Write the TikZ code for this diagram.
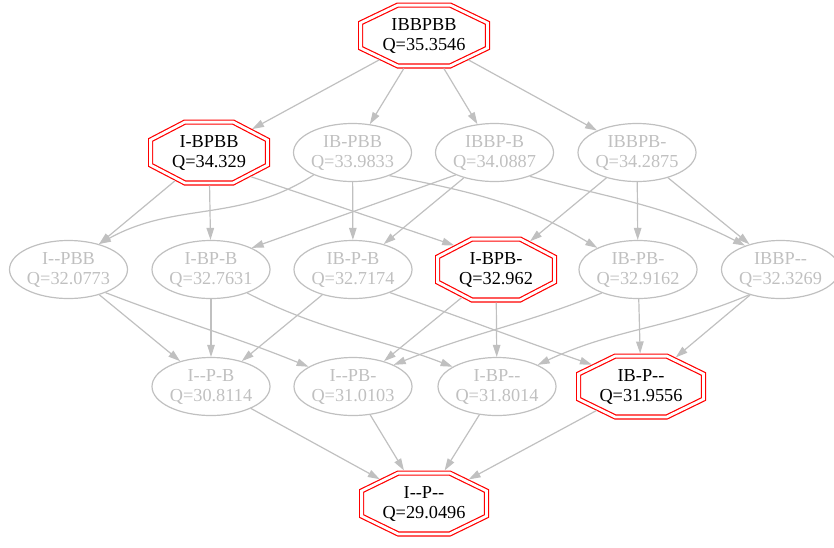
\documentclass[tikz,border=0pt]{standalone}
\usepackage{fontspec}
\setmainfont{Liberation Serif}[Ligatures=TeXOff]
\usetikzlibrary{arrows.meta,shapes.geometric}
\definecolor{lgray}{RGB}{192,192,192}
\definecolor{gvred}{RGB}{255,0,0}
\newcommand\gvfont{\fontsize{18.3}{20}\selectfont}
\newdimen\octcx \newdimen\octcy \newdimen\octa \newdimen\octb \newdimen\octka \newdimen\octkb
\newdimen\octsx \newdimen\octsy \newdimen\octux \newdimen\octuy
\makeatletter
\pgfdeclareshape{gvoctagon}{%
  \savedanchor\centerpoint{%
    \pgf@x=.5\wd\pgfnodeparttextbox
    \pgf@y=.5\ht\pgfnodeparttextbox
    \advance\pgf@y by -.5\dp\pgfnodeparttextbox
  }%
  \saveddimen\halfw{\pgfmathsetlength\pgf@x{.5*\pgfkeysvalueof{/pgf/minimum width}}}%
  \saveddimen\halfh{\pgfmathsetlength\pgf@x{.5*\pgfkeysvalueof{/pgf/minimum height}}}%
  \saveddimen\osep{\pgfmathsetlength\pgf@x{\pgfkeysvalueof{/pgf/outer xsep}}}%
  \anchor{center}{\centerpoint}%
  \anchor{text}{\pgf@x=0pt\pgf@y=0pt}%
  \anchor{north}{\centerpoint\advance\pgf@y by\halfh\advance\pgf@y by\osep}%
  \anchor{south}{\centerpoint\advance\pgf@y by-\halfh\advance\pgf@y by-\osep}%
  \anchor{east}{\centerpoint\advance\pgf@x by\halfw\advance\pgf@x by\osep}%
  \anchor{west}{\centerpoint\advance\pgf@x by-\halfw\advance\pgf@x by-\osep}%
  \backgroundpath{%
    \centerpoint \octcx=\pgf@x \octcy=\pgf@y
    \octa=\halfw \octb=\halfh
    \octka=0.41421\octa \octkb=0.41421\octb
    \pgfpathmoveto{\pgfqpoint{\dimexpr\octcx+\octka\relax}{\dimexpr\octcy+\octb\relax}}%
    \pgfpathlineto{\pgfqpoint{\dimexpr\octcx+\octa\relax}{\dimexpr\octcy+\octkb\relax}}%
    \pgfpathlineto{\pgfqpoint{\dimexpr\octcx+\octa\relax}{\dimexpr\octcy-\octkb\relax}}%
    \pgfpathlineto{\pgfqpoint{\dimexpr\octcx+\octka\relax}{\dimexpr\octcy-\octb\relax}}%
    \pgfpathlineto{\pgfqpoint{\dimexpr\octcx-\octka\relax}{\dimexpr\octcy-\octb\relax}}%
    \pgfpathlineto{\pgfqpoint{\dimexpr\octcx-\octa\relax}{\dimexpr\octcy-\octkb\relax}}%
    \pgfpathlineto{\pgfqpoint{\dimexpr\octcx-\octa\relax}{\dimexpr\octcy+\octkb\relax}}%
    \pgfpathlineto{\pgfqpoint{\dimexpr\octcx-\octka\relax}{\dimexpr\octcy+\octb\relax}}%
    \pgfpathclose
  }%
  \anchorborder{%
    \octsx=\pgf@x \octsy=\pgf@y
    \octux=\pgf@x \octuy=\pgf@y
    \ifdim\octux<0pt \octux=-\octux\fi
    \ifdim\octuy<0pt \octuy=-\octuy\fi
    \octa=\halfw \advance\octa by\osep
    \octb=\halfh \advance\octb by\osep
    \pgfmathsetmacro\octs{max(\octux/\octa,\octuy/\octb,(\octux/\octa+\octuy/\octb)/1.41421)}%
    \ifdim\octs pt<0.00001pt \def\octs{1}\fi
    \pgfmathsetmacro\octf{1/\octs}%
    \centerpoint
    \advance\pgf@x by \octf\octsx
    \advance\pgf@y by \octf\octsy
  }%
}
\makeatother
\tikzset{
  oct/.style={shape=gvoctagon, draw=gvred, line width=1.2pt, double=white,
    double distance=2.8pt, outer sep=2.6pt, minimum height=60.8pt,
    align=center, text=black, font=\gvfont},
  ell/.style={ellipse, draw=lgray, line width=1.2pt, inner sep=0pt,
    minimum width=118pt, minimum height=58pt, align=center, text=lgray,
    font=\gvfont, outer sep=0.6pt},
  conn/.style={draw=lgray, line width=1.2pt, -{Triangle[length=12pt,width=7.5pt]}},
}
\begin{document}
\begin{tikzpicture}[x=1pt,y=1pt]
\useasboundingbox (0,0) rectangle (834,-547);
\node[oct, minimum width=126.8pt] (T) at (424,-35.5) {IBBPBB\\Q=35.3546};
\node[oct, minimum width=116.8pt] (A1) at (209,-152.5) {I-BPBB\\Q=34.329};
\node[ell] (A2) at (352.5,-152.5) {IB-PBB\\Q=33.9833};
\node[ell] (A3) at (494.5,-152.5) {IBBP-B\\Q=34.0887};
\node[ell] (A4) at (637,-152.5) {IBBPB-\\Q=34.2875};
\node[ell] (B0) at (68.5,-269.5) {I--PBB\\Q=32.0773};
\node[ell] (B1) at (211,-269.5) {I-BP-B\\Q=32.7631};
\node[ell] (B2) at (353,-269.5) {IB-P-B\\Q=32.7174};
\node[oct, minimum width=116.8pt] (B3) at (496,-269.5) {I-BPB-\\Q=32.962};
\node[ell] (B4) at (638,-269.5) {IB-PB-\\Q=32.9162};
\node[ell] (B5) at (780.5,-269.5) {IBBP--\\Q=32.3269};
\node[ell] (C0) at (211,-386.5) {I--P-B\\Q=30.8114};
\node[ell] (C1) at (353,-386.5) {I--PB-\\Q=31.0103};
\node[ell] (C2) at (497,-386.5) {I-BP--\\Q=31.8014};
\node[oct, minimum width=124.8pt] (C3) at (641,-386.5) {IB-P--\\Q=31.9556};
\node[oct, minimum width=124.8pt] (D) at (424,-503.5) {I--P--\\Q=29.0496};
% rank 0 -> 1
\draw[conn] (T) -- (A1);
\draw[conn] (T) -- (A2);
\draw[conn] (T) -- (A3);
\draw[conn] (T) -- (A4);
% rank 1 -> 2
\draw[conn] (A1) -- (B0);
\draw[conn] (A1) -- (B1);
\draw[conn] (A1.-30) -- (B3.150);
\draw[conn] (A2.210) to[out=213,in=29] (B0.40);
\draw[conn] (A2) -- (B2);
\draw[conn] (A2.-32) to[out=-11,in=149] (B4.152);
\draw[conn] (A3.210) -- (B1.28);
\draw[conn] (A3) -- (B2);
\draw[conn] (A3.-34) to[out=-15,in=153] (B5.146);
\draw[conn] (A4) -- (B3);
\draw[conn] (A4) -- (B4);
\draw[conn] (A4) -- (B5);
% rank 2 -> 3
\draw[conn] (B0) -- (C0);
\draw[conn] (B0.-32) to[out=-21,in=158] (C1.156);
\draw[conn] (B1) -- (C0);
\draw[conn] (B1.-33) to[out=-27,in=159] (C2.156);
\draw[conn] (B2) -- (C0);
\draw[conn] (B2.-32) to[out=-19,in=161] (C3.156);
\draw[conn] (B3) -- (C1);
\draw[conn] (B3) -- (C2);
\draw[conn] (B4.213) to[out=202,in=22] (C1.28);
\draw[conn] (B4) -- (C3);
\draw[conn] (B5.219) to[out=203,in=25] (C2.28);
\draw[conn] (B5) -- (C3);
% rank 3 -> 4
\draw[conn] (C0) -- (D);
\draw[conn] (C1) -- (D);
\draw[conn] (C2) -- (D);
\draw[conn] (C3) -- (D);
\end{tikzpicture}
\end{document}
